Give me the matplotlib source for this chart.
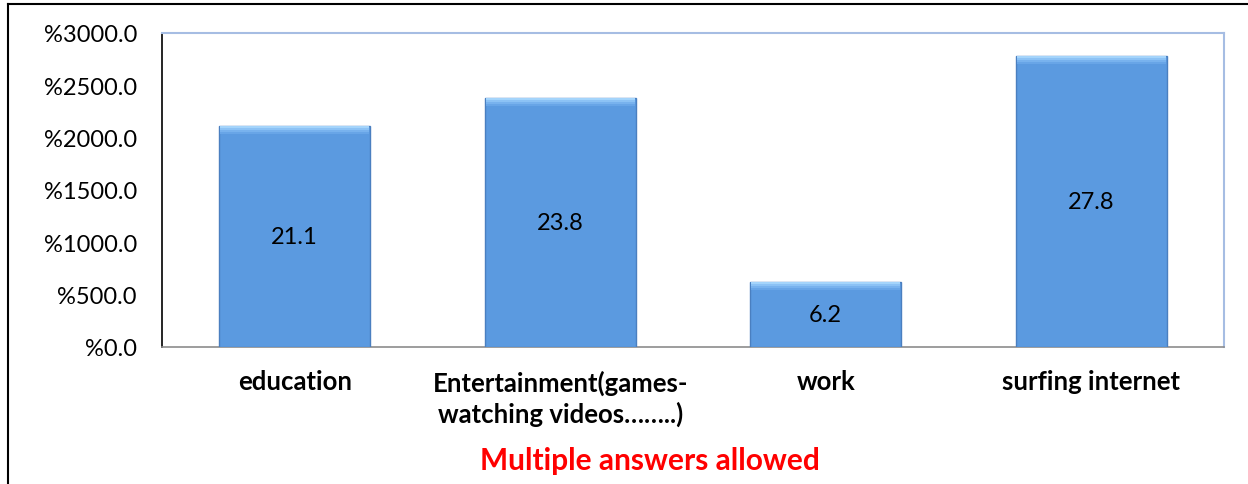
import matplotlib
matplotlib.use("Agg")
import matplotlib.pyplot as plt
from matplotlib.lines import Line2D

categories = ["education", "Entertainment(games-\nwatching videos……..)", "work", "surfing internet"]
values = [2110, 2380, 620, 2780]
bar_labels = ["21.1", "23.8", "6.2", "27.8"]
yticks = [0, 500, 1000, 1500, 2000, 2500, 3000]
ytick_labels = ["%0.0", "%500.0", "%1000.0", "%1500.0", "%2000.0", "%2500.0", "%3000.0"]
note = "Multiple answers allowed"

plt.rcParams['font.family'] = ['Lato', 'DejaVu Sans']

fig = plt.figure(figsize=(12.48, 4.85), dpi=100)
ax = fig.add_axes([162/1248, 1-348/485, (1224-162)/1248, (348-34)/485])

x = list(range(len(categories)))
W = 0.57
ax.bar(x, values, width=W, color="#5b9ae0", edgecolor="#4a7fc0", linewidth=1.0, zorder=3)
# top bevel: stacked light bands (each ~2px tall)
px = 3000 / 314.0
band_colors = ["#a4d4fb", "#8cc2f5", "#78b2ee", "#68a5e7"]
for i, c in enumerate(band_colors):
    ax.bar(x, [2*px]*len(values), bottom=[v - (i+1)*2*px for v in values], width=W*0.985,
           color=c, linewidth=0, zorder=4)

for xi, v, lab in zip(x, values, bar_labels):
    ax.text(xi, v/2, lab, ha="center", va="center", fontsize=17, color="black", zorder=5)

ax.set_xlim(-0.5, len(categories)-0.5)
ax.set_ylim(0, 3000)
ax.set_yticks(yticks)
ax.set_yticklabels(ytick_labels, fontsize=17)
ax.set_xticks(x)
ax.set_xticklabels(categories, fontsize=18.5, fontweight="bold", linespacing=1.3)
ax.tick_params(axis="y", length=0, pad=18)
ax.tick_params(axis="x", length=0, pad=16)
for lbl in ax.get_xticklabels():
    lbl.set_verticalalignment("top")

ax.spines["left"].set_color("black")
ax.spines["left"].set_linewidth(1.2)
ax.spines["bottom"].set_color("#8c8c8c")
ax.spines["bottom"].set_linewidth(1.2)
ax.spines["top"].set_color("#a6bde3")
ax.spines["right"].set_color("#a6bde3")
ax.spines["top"].set_linewidth(1.5)
ax.spines["right"].set_linewidth(1.5)

fig.text(650/1248, 1-461/485, note, ha="center", va="center", fontsize=21.5,
         fontweight="bold", color="#ff0000")

fig.add_artist(Line2D([8/1248, 1], [1-5/485, 1-5/485], transform=fig.transFigure, color="black", lw=1.5))
fig.add_artist(Line2D([8/1248, 8/1248], [0, 1-5/485], transform=fig.transFigure, color="black", lw=1.5))

fig.savefig("out.png", dpi=100)
